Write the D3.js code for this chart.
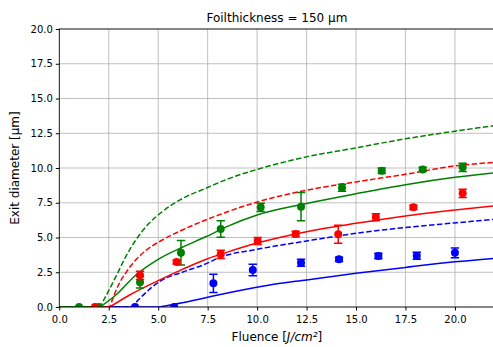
<!DOCTYPE html>
<html>
<head>
<meta charset="utf-8">
<script src="https://cdn.jsdelivr.net/npm/d3@7"></script>
<style>
    body { margin: 0; background: #fff; }
    text { font-family: "DejaVu Sans", sans-serif; fill: #000; }
</style>
</head>
<body>
<div id="chart"></div>
<script>

// measured points (fluence, diameter, error)
let greenX = [1.0, 2.0, 4.08, 6.15, 8.16, 10.18, 12.22, 14.29, 16.3, 18.37, 20.39];
let greenY = [0, 0, 1.78, 3.9, 5.61, 7.17, 7.22, 8.58, 9.8, 9.9, 10.05];
let greenErr = [0, 0, 0.42, 0.88, 0.6, 0.3, 1.02, 0.25, 0.2, 0.15, 0.3];

let redX = [1.8, 4.08, 5.93, 8.16, 10.03, 11.95, 14.1, 16.0, 17.9, 20.39];
let redY = [0, 2.28, 3.24, 3.79, 4.75, 5.25, 5.23, 6.45, 7.17, 8.18];
let redErr = [0, 0.3, 0.15, 0.3, 0.25, 0.2, 0.65, 0.25, 0.15, 0.3];

let blueX = [3.83, 5.81, 7.79, 9.78, 12.22, 14.14, 16.13, 18.07, 20.0];
let blueY = [0, 0, 1.7, 2.66, 3.19, 3.43, 3.67, 3.69, 3.9];
let blueErr = [0, 0, 0.66, 0.42, 0.25, 0.15, 0.2, 0.25, 0.35];

// model curves (first two points = flat part up to threshold)
let greenDashX = [0, 2.06, 2.86, 3.36, 3.87, 4.54, 5.21, 6.22, 7.4, 8.5, 10, 12.5, 15, 17.5, 20, 22];
let greenDashY = [0, 0, 2.18, 3.62, 4.82, 6.02, 6.86, 7.8, 8.54, 9.2, 9.9, 10.8, 11.45, 12.1, 12.65, 13.05];

let greenSolidX = [0, 2.06, 2.86, 3.87, 5.0, 6.22, 7.4, 8.5, 10, 12.5, 15, 17.5, 20, 22];
let greenSolidY = [0, 0, 0.86, 2.3, 3.43, 4.3, 5.05, 5.8, 6.62, 7.45, 8.15, 8.8, 9.33, 9.66];

let redDashX = [0, 2.55, 2.95, 3.46, 4.3, 5.21, 6.22, 7.4, 8.5, 10, 12.5, 15, 17.5, 20, 22];
let redDashY = [0, 0, 1.46, 2.66, 3.98, 4.82, 5.54, 6.26, 6.85, 7.55, 8.4, 9.0, 9.55, 10.15, 10.4];

let redSolidX = [0, 2.55, 3.6, 5.0, 6.22, 7.4, 8.5, 10, 12.5, 15, 17.5, 20, 22];
let redSolidY = [0, 0, 0.9, 1.9, 2.71, 3.42, 3.95, 4.6, 5.42, 6.02, 6.55, 6.98, 7.27];

let blueDashX = [0, 3.66, 4.2, 4.7, 5.21, 6.22, 7.4, 8.12, 10, 12.5, 15, 17.5, 20, 22];
let blueDashY = [0, 0, 0.8, 1.45, 1.95, 2.5, 3.1, 3.57, 4.15, 4.75, 5.3, 5.72, 6.05, 6.31];

let blueSolidX = [0, 5.05, 6.22, 7.5, 9, 10.5, 12.5, 15, 17.5, 20, 22];
let blueSolidY = [0, 0, 0.3, 0.7, 1.15, 1.55, 1.95, 2.42, 2.85, 3.25, 3.5];

let xTicks = [0, 2.5, 5, 7.5, 10, 12.5, 15, 17.5, 20];
let yTicks = [0, 2.5, 5, 7.5, 10, 12.5, 15, 17.5, 20];

let vis = {};
vis.width = 493;
vis.height = 347;
vis.margin = {top: 29, right: -1.5, bottom: 40, left: 59.3};
vis.innerW = vis.width - vis.margin.left - vis.margin.right;
vis.innerH = vis.height - vis.margin.top - vis.margin.bottom;

vis.svg = d3.select("#chart").append("svg")
    .attr("width", vis.width)
    .attr("height", vis.height);

vis.g = vis.svg.append("g")
    .attr("transform", "translate(" + vis.margin.left + "," + vis.margin.top + ")");

// Scales
vis.x = d3.scaleLinear().domain([0, 22]).range([0, vis.innerW]);
vis.y = d3.scaleLinear().domain([0, 20]).range([vis.innerH, 0]);

vis.g.append("clipPath").attr("id", "plot-clip")
    .append("rect")
    .attr("width", vis.innerW)
    .attr("height", vis.innerH);

// grid
vis.g.append("g")
    .selectAll("line.vgrid")
    .data(xTicks)
    .enter().append("line")
    .attr("x1", d => vis.x(d)).attr("x2", d => vis.x(d))
    .attr("y1", 0).attr("y2", vis.innerH)
    .attr("stroke", "#b0b0b0").attr("stroke-width", 0.8);

vis.g.append("g")
    .selectAll("line.hgrid")
    .data(yTicks)
    .enter().append("line")
    .attr("x1", 0).attr("x2", vis.innerW)
    .attr("y1", d => vis.y(d)).attr("y2", d => vis.y(d))
    .attr("stroke", "#b0b0b0").attr("stroke-width", 0.8);

// curves
let zip = (xs, ys) => xs.map((x, i) => ({x: x, y: ys[i]}));

vis.flat = d3.line()
    .x(d => vis.x(d.x))
    .y(d => vis.y(d.y));

vis.line = d3.line()
    .x(d => vis.x(d.x))
    .y(d => vis.y(d.y))
    .curve(d3.curveMonotoneX);

// flat zero segment, then a smooth rise from the threshold (kink kept)
function curvePath(pts) {
    let head = vis.flat(pts.slice(0, 2));
    let tail = vis.line(pts.slice(1)).replace(/^M[^LC]*/, "");
    return head + tail;
}

let curves = [
    {pts: zip(blueSolidX, blueSolidY), color: "blue", dash: null},
    {pts: zip(blueDashX, blueDashY), color: "blue", dash: "5.5,2.4"},
    {pts: zip(redSolidX, redSolidY), color: "red", dash: null},
    {pts: zip(redDashX, redDashY), color: "red", dash: "5.5,2.4"},
    {pts: zip(greenSolidX, greenSolidY), color: "green", dash: null},
    {pts: zip(greenDashX, greenDashY), color: "green", dash: "5.5,2.4"}
];

vis.curves = vis.g.append("g").attr("clip-path", "url(#plot-clip)");
curves.forEach(function(c) {
    vis.curves.append("path")
        .attr("fill", "none")
        .attr("stroke", c.color)
        .attr("stroke-width", 1.5)
        .attr("stroke-dasharray", c.dash)
        .attr("d", curvePath(c.pts));
});

// error bars + markers
let series = [
    {xs: greenX, ys: greenY, es: greenErr, color: "green"},
    {xs: redX, ys: redY, es: redErr, color: "red"},
    {xs: blueX, ys: blueY, es: blueErr, color: "blue"}
];

vis.points = vis.g.append("g").attr("clip-path", "url(#plot-clip)");
series.forEach(function(s) {
    let pts = s.xs.map((x, i) => ({x: x, y: s.ys[i], e: s.es[i]}));
    let grp = vis.points.append("g");
    let bars = pts.filter(d => d.e > 0);

    grp.selectAll("line.err").data(bars).enter().append("line")
        .attr("x1", d => vis.x(d.x)).attr("x2", d => vis.x(d.x))
        .attr("y1", d => vis.y(d.y - d.e)).attr("y2", d => vis.y(d.y + d.e))
        .attr("stroke", s.color).attr("stroke-width", 1.5);

    [-1, 1].forEach(function(sign) {
        grp.selectAll("line.cap" + sign).data(bars).enter().append("line")
            .attr("x1", d => vis.x(d.x) - 4.2).attr("x2", d => vis.x(d.x) + 4.2)
            .attr("y1", d => vis.y(d.y + sign * d.e)).attr("y2", d => vis.y(d.y + sign * d.e))
            .attr("stroke", s.color).attr("stroke-width", 1.5);
    });

    grp.selectAll("circle").data(pts).enter().append("circle")
        .attr("cx", d => vis.x(d.x))
        .attr("cy", d => vis.y(d.y))
        .attr("r", 4)
        .attr("fill", s.color);
});

// Axes
vis.xAxis = d3.axisBottom(vis.x).tickValues(xTicks).tickFormat(d3.format(".1f")).tickSizeOuter(0).tickSize(3.5);
vis.yAxis = d3.axisLeft(vis.y).tickValues(yTicks).tickFormat(d3.format(".1f")).tickSizeOuter(0).tickSize(3.5);

vis.g.append("g")
    .attr("transform", "translate(0," + vis.innerH + ")")
    .call(vis.xAxis)
    .call(g => g.selectAll("text").attr("font-size", 10).attr("font-family", "DejaVu Sans").attr("dy", "0.95em"));

vis.g.append("g")
    .call(vis.yAxis)
    .call(g => g.selectAll("text").attr("font-size", 10).attr("font-family", "DejaVu Sans"));

// frame
vis.g.append("rect")
    .attr("width", vis.innerW)
    .attr("height", vis.innerH)
    .attr("fill", "none")
    .attr("stroke", "#000")
    .attr("stroke-width", 0.8);

vis.g.selectAll(".domain").remove();

// Title and labels
vis.svg.append("text")
    .attr("x", vis.margin.left + vis.innerW / 2)
    .attr("y", 22)
    .attr("text-anchor", "middle")
    .attr("font-size", 12)
    .text("Foilthickness = 150 μm");

let xl = vis.svg.append("text")
    .attr("x", vis.margin.left + vis.innerW / 2)
    .attr("y", 341)
    .attr("text-anchor", "middle")
    .attr("font-size", 12);
xl.append("tspan").text("Fluence [");
xl.append("tspan").attr("font-style", "italic").text("J/cm²");
xl.append("tspan").text("]");

vis.svg.append("text")
    .attr("transform", "translate(19," + (vis.margin.top + vis.innerH / 2) + ") rotate(-90)")
    .attr("text-anchor", "middle")
    .attr("font-size", 12)
    .text("Exit diameter [μm]");

</script>
</body>
</html>
